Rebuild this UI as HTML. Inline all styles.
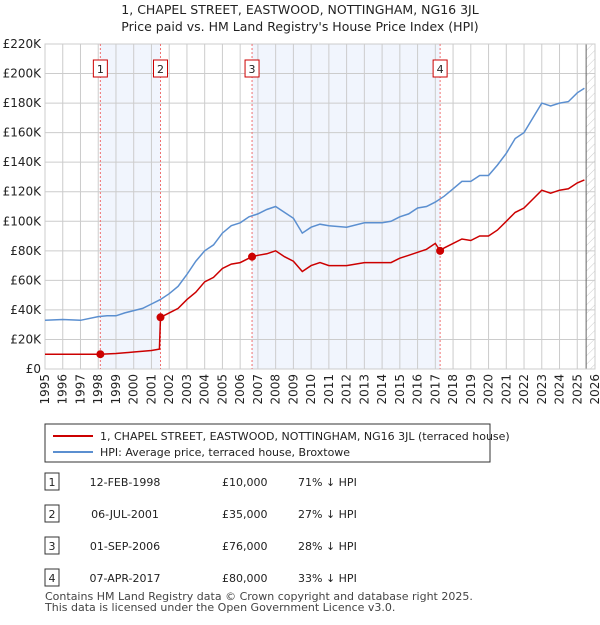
<!DOCTYPE html>
<html><head><meta charset="utf-8"><style>
body{margin:0;background:#fff;font-family:"Liberation Sans","DejaVu Sans",sans-serif;}
svg text{font-family:"DejaVu Sans","Liberation Sans",sans-serif;}
</style></head><body>
<svg id="c" width="600" height="620" xmlns="http://www.w3.org/2000/svg">
<text x="300" y="14" text-anchor="middle" font-size="12.5" fill="#222">1, CHAPEL STREET, EASTWOOD, NOTTINGHAM, NG16 3JL</text>
<text x="300" y="31" text-anchor="middle" font-size="12.5" fill="#222">Price paid vs. HM Land Registry's House Price Index (HPI)</text>
<defs><pattern id="hatch" width="6" height="6" patternUnits="userSpaceOnUse" patternTransform="rotate(45)"><line x1="0" y1="0" x2="0" y2="6" stroke="#ccc" stroke-width="1"/></pattern></defs>
<g id="plot"></g>
<g>
<rect x="45" y="424" width="445" height="38" fill="#fff" stroke="#333" stroke-width="1"/>
<line x1="53" y1="436" x2="93" y2="436" stroke="#cc0000" stroke-width="2"/>
<text x="100" y="440" font-size="11" fill="#222">1, CHAPEL STREET, EASTWOOD, NOTTINGHAM, NG16 3JL (terraced house)</text>
<line x1="53" y1="452" x2="93" y2="452" stroke="#5b8fd0" stroke-width="2"/>
<text x="100" y="456" font-size="11" fill="#222">HPI: Average price, terraced house, Broxtowe</text>
</g>
<g id="tbl" font-size="11" fill="#222"></g>
<text x="45" y="600" font-size="11" fill="#444">Contains HM Land Registry data © Crown copyright and database right 2025.</text>
<text x="45" y="611" font-size="11" fill="#444">This data is licensed under the Open Government Licence v3.0.</text>
</svg>
<script>
const hpiYears=[1995,1996,1997,1998,1998.5,1999,1999.5,2000,2000.5,2001,2001.5,2002,2002.5,2003,2003.5,2004,2004.5,2005,2005.5,2006,2006.5,2007,2007.5,2008,2008.5,2009,2009.5,2010,2010.5,2011,2012,2013,2014,2014.5,2015,2015.5,2016,2016.5,2017,2017.5,2018,2018.5,2019,2019.5,2020,2020.5,2021,2021.5,2022,2022.5,2023,2023.5,2024,2024.5,2025,2025.4];
const hpiValues=[33,33.5,33,35.5,36,36,38,39.5,41,44,47,51,56,64,73,80,84,92,97,99,103,105,108,110,106,102,92,96,98,97,96,99,99,100,103,105,109,110,113,117,122,127,127,131,131,138,146,156,160,170,180,178,180,181,187,190];
const redYears=[1995,1998.12,1999,2000,2001,2001.45,2001.51,2002,2002.5,2003,2003.5,2004,2004.5,2005,2005.5,2006,2006.5,2006.67,2007,2007.5,2008,2008.5,2009,2009.5,2010,2010.5,2011,2012,2013,2014,2014.5,2015,2015.5,2016,2016.5,2017,2017.27,2017.5,2018,2018.5,2019,2019.5,2020,2020.5,2021,2021.5,2022,2022.5,2023,2023.5,2024,2024.5,2025,2025.4];
const redValues=[10,10,10.5,11.5,12.5,13.5,35,38,41,47,52,59,62,68,71,72,75,76,77,78,80,76,73,66,70,72,70,70,72,72,72,75,77,79,81,85,80,82,85,88,87,90,90,94,100,106,109,115,121,119,121,122,126,128];
const saleYears=[1998.12,2001.51,2006.67,2017.27];
const salePrices=[10,35,76,80];
const saleDates=["12-FEB-1998","06-JUL-2001","01-SEP-2006","07-APR-2017"];
const salePriceLabels=["£10,000","£35,000","£76,000","£80,000"];
const saleHpiLabels=["71% ↓ HPI","27% ↓ HPI","28% ↓ HPI","33% ↓ HPI"];
const yTicks=[0,20,40,60,80,100,120,140,160,180,200,220];
const xTicks=[];for(let y=1995;y<=2026;y++)xTicks.push(y);

const L=45,R=595,T=44,B=369,X0=1995,X1=2026,YMAX=220;
const sx=v=>L+(v-X0)/(X1-X0)*(R-L);
const sy=v=>B-v/YMAX*(B-T);
const NS="http://www.w3.org/2000/svg";
const g=document.getElementById('plot');
function mk(tag,attrs,parent){const e=document.createElementNS(NS,tag);for(const k in attrs)e.setAttribute(k,attrs[k]);(parent||g).appendChild(e);return e;}
for(const [a,b] of [[0,1],[2,3]]){
 const r=mk('rect',{x:sx(saleYears[a]),y:T,width:sx(saleYears[b])-sx(saleYears[a]),height:B-T,fill:'#eef3fc',opacity:0.8});
 
 
}
const hx=sx(2025.5);
const hr=mk('rect',{x:hx,y:T,width:R-hx,height:B-T,fill:'url(#hatch)'});


for(const t of yTicks){
 const l=mk('line',{x1:L,x2:R,y1:sy(t),y2:sy(t),stroke:'#ccc','stroke-width':1});
 
 
 const tx=mk('text',{x:L-4,y:sy(t)+4,'text-anchor':'end','font-size':12,fill:'#222'});
 tx.textContent='£'+(t===0?'0':t+'K');
 
 
}
for(const t of xTicks){
 const l=mk('line',{x1:sx(t),x2:sx(t),y1:T,y2:B,stroke:'#ccc','stroke-width':1});
 
 
 const tx=mk('text',{transform:`translate(${sx(t)+4},${B+5}) rotate(-90)`,'text-anchor':'end','font-size':12,fill:'#222'});
 tx.textContent=t;
 
 
}
mk('line',{x1:hx,x2:hx,y1:T,y2:B,stroke:'#666','stroke-width':1});
mk('rect',{x:L,y:T,width:R-L,height:B-T,fill:'none',stroke:'#ccc'});
saleYears.forEach((s,i)=>{
 const l=mk('line',{x1:sx(s),x2:sx(s),y1:T,y2:B,stroke:'#f07070','stroke-width':1,'stroke-dasharray':'2,2'});
 
 
 const bx=mk('rect',{x:sx(s)-7,y:60,width:14,height:17,fill:'#fff',stroke:'#cc0000'});
 
 
 const t=mk('text',{x:sx(s),y:73,'text-anchor':'middle','font-size':11,fill:'#222'});
 t.textContent=i+1;
 
 
});
const path=(xs,ys)=>xs.map((x,i)=>(i?'L':'M')+sx(x).toFixed(1)+','+sy(ys[i]).toFixed(1)).join('');
const hp=mk('path',{d:path(hpiYears,hpiValues),fill:'none',stroke:'#5b8fd0','stroke-width':1.5});


const rp=mk('path',{d:path(redYears,redValues),fill:'none',stroke:'#cc0000','stroke-width':1.5});


saleYears.forEach((s,i)=>{
 const c=mk('circle',{cx:sx(s),cy:sy(salePrices[i]),r:4,fill:'#cc0000'});
 
 
});
const tb=document.getElementById('tbl');
saleDates.forEach((d,i)=>{
 const y=483+i*32;
 const bx=mk('rect',{x:45,y:y-10,width:14,height:17,fill:'#fff',stroke:'#333'},tb);
 
 
 const n=mk('text',{x:52,y:y+3,'text-anchor':'middle'},tb);n.textContent=i+1;
 
 
 const a=mk('text',{x:125,y:y+3,'text-anchor':'middle'},tb);a.textContent=d;
 
 
 const b=mk('text',{x:222,y:y+3},tb);b.textContent=salePriceLabels[i];
 
 
 const c=mk('text',{x:298,y:y+3},tb);c.textContent=saleHpiLabels[i];
 
 
});
</script>
</body></html>
